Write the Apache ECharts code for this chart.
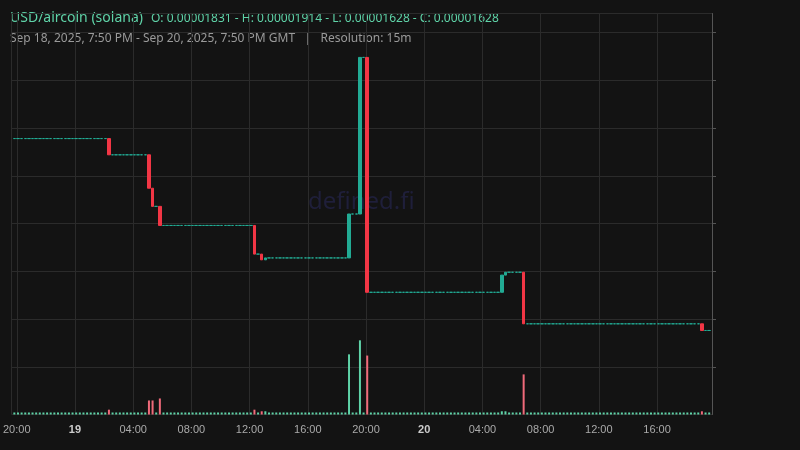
<!DOCTYPE html><html><head><meta charset="utf-8">
<script src="https://cdn.jsdelivr.net/npm/echarts@6/dist/echarts.min.js"></script>
<style>html,body{margin:0;background:#131313}#c{width:800px;height:450px}</style></head><body><div id="c"></div>
<script>
// 15-minute candles, Sep 18 2025 19:50 -> Sep 20 2025 19:50 GMT (192 candles)
const startLevel = 0.00001829;
// change events: [candle index, open, high, low, close, volume]; other candles flat at previous close
const eventIdx   = [26, 37, 38, 40, 66, 68, 69, 92, 95, 97, 134, 135, 140, 189];
const eventOpen  = [0.00001829,0.00001812,0.00001777,0.00001758,0.00001738,0.00001708,0.00001702,0.00001704,0.00001750,0.00001914,0.00001668,0.00001686,0.00001689,0.00001635];
const eventClose = [0.00001812,0.00001777,0.00001758,0.00001738,0.00001708,0.00001702,0.00001704,0.00001750,0.00001914,0.00001668,0.00001686,0.00001689,0.00001635,0.00001628];
const eventVol   = [1.2, 3.5, 3.5, 4, 1.2, 0.8, 0.8, 15, 18.5, 14.7, 0.8, 0.8, 10, 0.8];
const baseVol = 0.5;
const priceTicks = ['0.00001550','0.00001600','0.00001650','0.00001700','0.00001750','0.00001800','0.00001850','0.00001900','0.00001950'];

const t0 = Date.UTC(2025,8,18,19,50);
const step = 15*60000;
const candles=[], vols=[];
let last = startLevel;
for(let i=0;i<192;i++){
  const k = eventIdx.indexOf(i);
  const t = t0 + i*step;
  if(k>=0){
    const o=eventOpen[k], c=eventClose[k];
    candles.push([t,o,c,Math.min(o,c),Math.max(o,c)]);
    vols.push({value:[t,eventVol[k]],itemStyle:{color:c>=o?'#5fd3a8':'#f06a7a'}});
    last=c;
  } else {
    candles.push([t,last,last,last,last]);
    vols.push({value:[t,baseVol],itemStyle:{color:'#5fd3a8'}});
  }
}
const up='#22ab94', down='#f23645';
const chart=echarts.init(document.getElementById('c'));
chart.setOption({
  backgroundColor:'#131313',
  animation:false,
  graphic:[
    {type:'text',left:10,top:11,style:{text:'USD/aircoin (solana)',fill:'#5fd3a8',font:'14px "Noto Sans"'}},
    {type:'text',left:151,top:13,style:{text:'O: 0.00001831 - H: 0.00001914 - L: 0.00001628 - C: 0.00001628',fill:'#5fd3a8',font:'12px "Noto Sans"'}},
    {type:'text',left:10,top:33,style:{text:'Sep 18, 2025, 7:50 PM - Sep 20, 2025, 7:50 PM GMT   |   Resolution: 15m',fill:'#9a9a9a',font:'12px "Noto Sans"'}},
    {type:'text',left:308,top:190,z:0,style:{text:'defined.fi',fill:'#1f1f3a',font:'24px "Noto Sans"'}}
  ],
  grid:{left:10,right:88,top:13.5,bottom:35.5},
  xAxis:{type:'time',min:t0-step/2,max:t0+191.5*step,
    minInterval:6*3600000,maxInterval:6*3600000,
    axisLine:{show:false},axisTick:{show:false},
    splitLine:{show:true,lineStyle:{color:'#2b2b2b'}},
    axisLabel:{color:'#aaa',fontSize:11,margin:10,
      formatter:function(v){const d=new Date(v);const h=d.getUTCHours();
        if(h===0)return '{b|'+d.getUTCDate()+'}';return (h<10?'0':'')+h+':00';},
      rich:{b:{fontWeight:'bold',color:'#ccc',fontSize:11}}}},
  yAxis:[{type:'value',position:'right',min:0.0000154,max:0.0000196,interval:0.0000005,
    axisLine:{show:true,lineStyle:{color:'#555'}},axisTick:{show:true,length:4,lineStyle:{color:'#555'}},
    splitLine:{lineStyle:{color:'#2b2b2b'}},
    axisLabel:{color:'#aaa',fontSize:11,showMinLabel:false,showMaxLabel:false,
      formatter:function(v){const s=v.toFixed(8);return priceTicks.indexOf(s)>=0?s:'';}}},
    {type:'value',min:0,max:100,show:false}],
  series:[
    {type:'bar',yAxisIndex:1,data:vols,barWidth:2,z:1},
    {type:'candlestick',data:candles.map(d=>[d[0],d[1],d[2],d[3],d[4]]),barWidth:3,z:3,
      itemStyle:{color:up,color0:down,borderColor:up,borderColor0:down,borderWidth:1},
      markLine:{symbol:'none',silent:true,data:[{yAxis:0.00001628}],
        lineStyle:{color:'#aaa',type:'dotted',width:1},
        label:{position:'end',formatter:'0.00001628',color:'#fff',backgroundColor:up,padding:[3,6],fontSize:11,distance:2}}}
  ]
});
</script></body></html>
